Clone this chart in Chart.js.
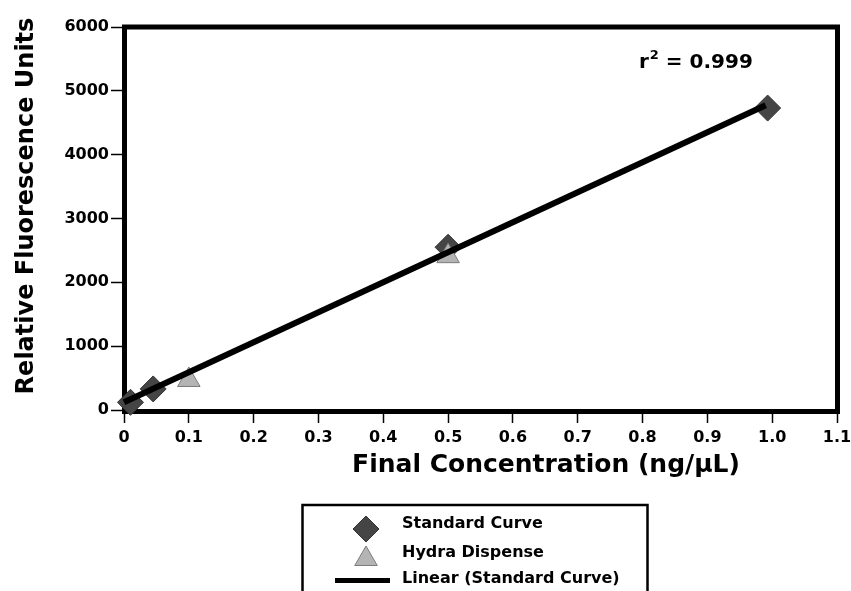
<!DOCTYPE html>
<html>
<head>
<meta charset="utf-8">
<script src="https://cdn.jsdelivr.net/npm/chart.js@4.4.0/dist/chart.umd.min.js"></script>
<style>
  html, body { margin: 0; padding: 0; background: #fff; }
</style>
</head>
<body>
<canvas id="canvas" width="851" height="591"></canvas>
<script>
// standard curve readings
const stdConc = [0.01, 0.045, 0.5, 0.993];
const stdRfu = [120, 330, 2550, 4730];

// hydra dispense readings
const hydraConc = [0.1, 0.5];
const hydraRfu = [470, 2410];

// linear fit of the standard curve (end points)
const fitConc = [0, 0.99];
const fitRfu = [120, 4775];
const rSquared = '0.999';

const xTicks = [0, 0.1, 0.2, 0.3, 0.4, 0.5, 0.6, 0.7, 0.8, 0.9, 1.0, 1.1];
const xTickLabels = ['0', '0.1', '0.2', '0.3', '0.4', '0.5', '0.6', '0.7', '0.8', '0.9', '1.0', '1.1'];
const yTicks = [0, 1000, 2000, 3000, 4000, 5000, 6000];
const yTickLabels = ['0', '1000', '2000', '3000', '4000', '5000', '6000'];

const FONT = '"DejaVu Sans", sans-serif';

function toPoints(xs, ys) {
    return xs.map(function (x, i) { return { x: x, y: ys[i] }; });
}

// frame, axis titles, r2 note and the boxed legend
const decorations = {
    id: 'decorations',
    beforeDatasetsDraw: function (chart) {
        const ctx = chart.ctx;
        const a = chart.chartArea;
        ctx.save();
        ctx.strokeStyle = '#000';
        ctx.lineWidth = 5;
        ctx.strokeRect(a.left + 0.5, a.top, a.right - a.left, a.bottom - a.top + 1.5);
        ctx.restore();
    },
    afterDraw: function (chart) {
        const ctx = chart.ctx;
        ctx.save();
        ctx.fillStyle = '#000';

        // y title
        ctx.save();
        ctx.translate(27, 206);
        ctx.rotate(-Math.PI / 2);
        ctx.font = 'bold 24px ' + FONT;
        ctx.textAlign = 'center';
        ctx.textBaseline = 'middle';
        ctx.fillText('Relative Fluorescence Units', 0, 0);
        ctx.restore();

        // x title
        ctx.font = 'bold 25px ' + FONT;
        ctx.textAlign = 'center';
        ctx.textBaseline = 'middle';
        ctx.fillText('Final Concentration (ng/\u03bcL)', 546, 465);

        // r squared
        ctx.textAlign = 'left';
        ctx.textBaseline = 'alphabetic';
        ctx.font = 'bold 20px ' + FONT;
        let x = 639;
        ctx.fillText('r', x, 68);
        x += ctx.measureText('r').width + 1;
        ctx.font = 'bold 13px ' + FONT;
        ctx.fillText('2', x, 59);
        x += ctx.measureText('2').width;
        ctx.font = 'bold 20px ' + FONT;
        ctx.fillText(' = ' + rSquared, x, 68);

        // legend
        ctx.strokeStyle = '#000';
        ctx.lineWidth = 2.5;
        ctx.strokeRect(302.5, 505, 345, 110);

        const rows = [
            { ds: chart.data.datasets[2], y: 529, ty: 524 },
            { ds: chart.data.datasets[1], y: 559, ty: 553 },
            { ds: chart.data.datasets[0], y: 580.5, ty: 579 }
        ];
        ctx.font = 'bold 16px ' + FONT;
        ctx.textBaseline = 'middle';
        rows.forEach(function (row) {
            const ds = row.ds;
            if (ds.showLine) {
                ctx.strokeStyle = ds.borderColor;
                ctx.lineWidth = 5;
                ctx.beginPath();
                ctx.moveTo(335, row.y);
                ctx.lineTo(390, row.y);
                ctx.stroke();
            } else {
                ctx.fillStyle = ds.backgroundColor;
                ctx.strokeStyle = ds.borderColor;
                ctx.lineWidth = ds.borderWidth;
                Chart.helpers.drawPoint(ctx, {
                    pointStyle: ds.pointStyle,
                    radius: ds.pointRadius,
                    rotation: 0,
                    borderWidth: ds.borderWidth
                }, 366, row.y);
            }
            ctx.fillStyle = '#000';
            ctx.fillText(ds.label, 402, row.ty);
        });
        ctx.restore();
    }
};

const tickFont = { family: FONT, size: 16, weight: 'bold' };

const ctx = document.getElementById('canvas').getContext('2d');
const myChart = new Chart(ctx, {
    type: 'scatter',
    data: {
        datasets: [
            {
                label: 'Linear (Standard Curve)',
                data: toPoints(fitConc, fitRfu),
                showLine: true,
                borderColor: '#000',
                borderWidth: 6,
                pointRadius: 0,
                clip: false,
                order: 0
            },
            {
                label: 'Hydra Dispense',
                data: toPoints(hydraConc, hydraRfu),
                pointStyle: 'triangle',
                pointRadius: 13,
                backgroundColor: '#b4b4b4',
                borderColor: '#7c7c7c',
                borderWidth: 1,
                clip: false,
                order: 1
            },
            {
                label: 'Standard Curve',
                data: toPoints(stdConc, stdRfu),
                pointStyle: 'rectRot',
                pointRadius: 13,
                backgroundColor: '#454545',
                borderColor: '#333',
                borderWidth: 1,
                clip: false,
                order: 2
            }
        ]
    },
    options: {
        responsive: false,
        animation: false,
        layout: { padding: { left: 0, top: 27, right: 14, bottom: 111 } },
        plugins: {
            legend: { display: false },
            tooltip: { enabled: false }
        },
        scales: {
            x: {
                type: 'linear',
                min: 0,
                max: 1.1,
                afterBuildTicks: function (scale) {
                    scale.ticks = xTicks.map(function (v) { return { value: v }; });
                },
                afterFit: function (scale) {
                    scale.height = 70;
                    // keep the "1.1" label from pushing the plot edge in
                    scale.paddingLeft = 0;
                    scale.paddingRight = 0;
                },
                ticks: {
                    callback: function (value, index) { return xTickLabels[index]; },
                    font: tickFont,
                    color: '#000',
                    padding: 5,
                    maxRotation: 0,
                    autoSkip: false
                },
                grid: {
                    drawOnChartArea: false,
                    drawTicks: true,
                    tickLength: 13,
                    tickColor: '#000',
                    tickWidth: 1.5
                },
                border: { display: false }
            },
            y: {
                type: 'linear',
                min: 0,
                max: 6000,
                afterBuildTicks: function (scale) {
                    scale.ticks = yTicks.map(function (v) { return { value: v }; });
                },
                afterFit: function (scale) {
                    scale.width = 124;
                    scale.paddingTop = 0;
                    scale.paddingBottom = 0;
                },
                ticks: {
                    callback: function (value, index) { return yTickLabels[index]; },
                    font: tickFont,
                    color: '#000',
                    padding: 2
                },
                grid: {
                    drawOnChartArea: false,
                    drawTicks: true,
                    tickLength: 13,
                    tickColor: '#000',
                    tickWidth: 1.5
                },
                border: { display: false }
            }
        }
    },
    plugins: [decorations]
});
</script>
</body>
</html>
